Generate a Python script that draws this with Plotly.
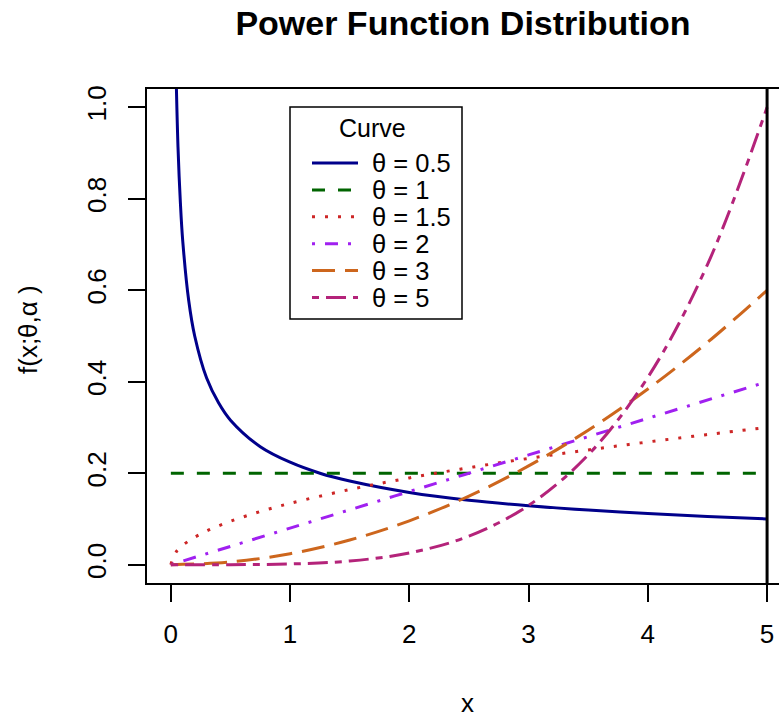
import plotly.graph_objects as go

# ---- data ----
labels = ["θ = 0.5", "θ = 1", "θ = 1.5", "θ = 2", "θ = 3", "θ = 5"]

x_t05 = [0.04, 0.06, 0.08, 0.1, 0.15, 0.2, 0.3, 0.4, 0.5, 0.75, 1.0, 1.25, 1.5, 2.0, 2.5, 3.0, 3.5, 4.0, 4.5, 5.0]
y_t05 = [1.118, 0.913, 0.791, 0.707, 0.577, 0.5, 0.408, 0.354, 0.316, 0.258, 0.224, 0.2, 0.183, 0.158, 0.141, 0.129, 0.1195, 0.112, 0.1054, 0.1]

x_t1 = [0.0, 5.0]
y_t1 = [0.2, 0.2]

x_t15 = [0.0, 0.05, 0.15, 0.3, 0.5, 0.75, 1.0, 1.5, 2.0, 2.5, 3.0, 3.5, 4.0, 4.5, 5.0]
y_t15 = [0.0, 0.030, 0.052, 0.0735, 0.0949, 0.1162, 0.1342, 0.1643, 0.1897, 0.2121, 0.2324, 0.2510, 0.2683, 0.2846, 0.3]

x_t2 = [0.0, 1.0, 2.0, 3.0, 4.0, 5.0]
y_t2 = [0.0, 0.08, 0.16, 0.24, 0.32, 0.4]

x_t3 = [0.0, 0.5, 1.0, 1.5, 2.0, 2.5, 3.0, 3.5, 4.0, 4.5, 5.0]
y_t3 = [0.0, 0.006, 0.024, 0.054, 0.096, 0.15, 0.216, 0.294, 0.384, 0.486, 0.6]

x_t5 = [0.0, 0.5, 1.0, 1.5, 2.0, 2.5, 3.0, 3.5, 4.0, 4.5, 5.0]
y_t5 = [0.0, 0.0001, 0.0016, 0.0081, 0.0256, 0.0625, 0.1296, 0.2401, 0.4096, 0.6561, 1.0]

x_ticks = [0, 1, 2, 3, 4, 5]
y_ticks = [0.0, 0.2, 0.4, 0.6, 0.8, 1.0]
y_tick_text = ["0.0", "0.2", "0.4", "0.6", "0.8", "1.0"]

series = [(x_t05, y_t05), (x_t1, y_t1), (x_t15, y_t15), (x_t2, y_t2), (x_t3, y_t3), (x_t5, y_t5)]
colors = ["#00008B", "#006400", "#CD2626", "#A020F0", "#CD661D", "#B4237A"]
dashes = ["solid", "13px,13px", "3px,10px", "3px,10px,13px,10px", "23px,10px", "7px,7px,20px,7px"]

FONT = "Liberation Sans, Arial, Helvetica, sans-serif"

# plot-area geometry in pixels
L, R, T, B = 147, 779, 89, 583
W, H = R - L, B - T


def px(xp):
    return (xp - L) / W


def py(yp):
    return (B - yp) / H


fig = go.Figure()
for (xs, ys), name, c, d in zip(series, labels, colors, dashes):
    fig.add_trace(go.Scatter(
        x=xs, y=ys, mode="lines", name=name, showlegend=False,
        line=dict(color=c, width=3, dash=d, shape="spline", smoothing=1.0),
    ))

# vertical line at x = 5
fig.add_shape(type="line", xref="x", yref="y domain", x0=5, x1=5, y0=0, y1=1,
              line=dict(color="black", width=3))

# legend box drawn by hand (R-style legend)
annotations = []
fig.add_shape(type="rect", xref="paper", yref="paper",
              x0=px(290), x1=px(462), y0=py(319), y1=py(107),
              line=dict(color="black", width=1.5), fillcolor="white", layer="above")
annotations.append(dict(text="Curve", xref="paper", yref="paper", x=px(372), y=py(128),
                        xanchor="center", yanchor="middle", showarrow=False,
                        font=dict(size=25, family=FONT, color="black")))
for i, (name, c, d) in enumerate(zip(labels, colors, dashes)):
    yc = 163 + 26.9 * i
    fig.add_shape(type="line", xref="paper", yref="paper",
                  x0=px(312), x1=px(358), y0=py(yc), y1=py(yc),
                  line=dict(color=c, width=3, dash=d), layer="above")
    annotations.append(dict(text=name, xref="paper", yref="paper", x=px(370), y=py(yc),
                            xanchor="left", yanchor="middle", showarrow=False,
                            font=dict(size=25.5, family=FONT, color="black")))

annotations += [
    dict(text="x", xref="paper", yref="paper", x=px(467), y=py(703),
         xanchor="center", yanchor="middle", showarrow=False,
         font=dict(size=26, family=FONT, color="black")),
    dict(text="f(x;θ,α )", xref="paper", yref="paper", x=px(28), y=py(330),
         xanchor="center", yanchor="middle", showarrow=False, textangle=-90,
         font=dict(size=26, family=FONT, color="black")),
]

fig.update_layout(
    width=779, height=717,
    margin=dict(l=L, r=779 - R, t=T, b=717 - B),
    paper_bgcolor="white", plot_bgcolor="white",
    font=dict(family=FONT, color="black", size=26),
    title=dict(text="<b>Power Function Distribution</b>", x=0.5, xref="paper",
               y=1 - 23 / 717, yref="container", xanchor="center", yanchor="middle",
               font=dict(size=34, family=FONT, color="black")),
    showlegend=False,
    xaxis=dict(
        range=[-0.2, 5.1], tickmode="array", tickvals=x_ticks,
        ticks="outside", ticklen=17, tickwidth=1.5, tickcolor="black",
        showline=True, linecolor="black", linewidth=1.5, mirror=True,
        showgrid=False, zeroline=False, ticklabelstandoff=10,
        tickfont=dict(size=26, family=FONT, color="black"),
    ),
    yaxis=dict(
        range=[-0.04, 1.04], tickmode="array", tickvals=y_ticks, ticktext=y_tick_text,
        ticks="outside", ticklen=17, tickwidth=1.5, tickcolor="black",
        showline=True, linecolor="black", linewidth=1.5, mirror=False,
        showgrid=False, zeroline=False, tickangle=-90, ticklabelstandoff=12,
        tickfont=dict(size=26, family=FONT, color="black"),
    ),
    annotations=annotations,
)

fig.write_html("out.html", config={"displayModeBar": False},
               post_script="document.body.style.margin='0px';")
